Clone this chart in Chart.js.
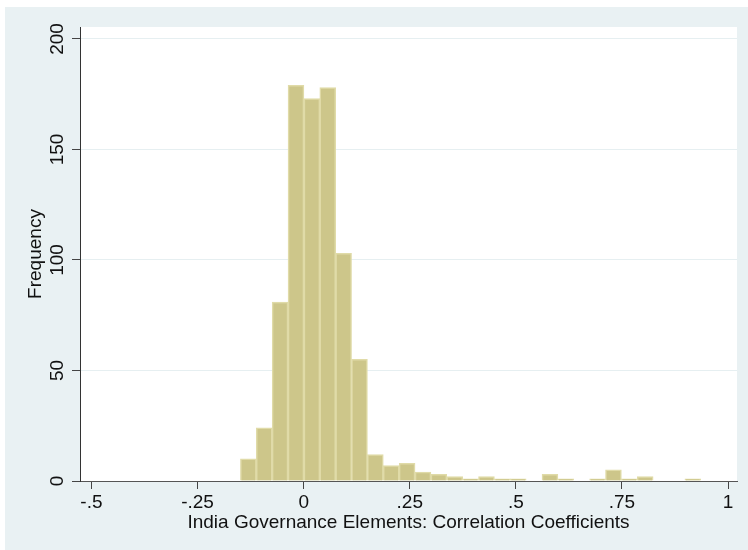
<!DOCTYPE html>
<html>
<head>
<meta charset="utf-8">
<title>India Governance Elements</title>
<script src="https://cdn.jsdelivr.net/npm/chart.js@4.4.1/dist/chart.umd.min.js"></script>
<style>
  html, body { margin: 0; padding: 0; background: #ffffff; }
  canvas { display: block; }
</style>
</head>
<body>
<canvas id="hist" width="748" height="550"></canvas>
<script>
// histogram bins (29 bins)
const binStart = -0.149;
const binWidth = 0.0374;
const frequencies = [10, 24, 81, 179, 173, 178, 103, 55, 12, 7, 8, 4, 3, 2, 1, 2, 1, 1, 0, 3, 1, 0, 1, 5, 1, 2, 0, 0, 1];

const xTicks = [-0.5, -0.25, 0, 0.25, 0.5, 0.75, 1];
const xTickLabels = ['-.5', '-.25', '0', '.25', '.5', '.75', '1'];
const yTicks = [0, 50, 100, 150, 200];
const yTickLabels = ['0', '50', '100', '150', '200'];
const xTitle = 'India Governance Elements: Correlation Coefficients';
const yTitle = 'Frequency';

const fontFamily = '"Liberation Sans", Arial, Helvetica, sans-serif';
const textColor = '#111111';

let binData = frequencies.map((f, i) => ({ x: binStart + binWidth * (i + 0.5), y: f }));

// stata style frame + titles drawn round the chart area
const stataFrame = {
  id: 'stataFrame',
  beforeDraw: (chart) => {
    const {ctx, chartArea} = chart;
    ctx.save();
    ctx.fillStyle = '#ffffff';
    ctx.fillRect(0, 0, chart.width, chart.height);
    ctx.fillStyle = '#e9f1f3';
    ctx.fillRect(5, 7, chart.width - 5, chart.height - 7);
    ctx.fillStyle = '#ffffff';
    ctx.fillRect(chartArea.left, chartArea.top, chartArea.right - chartArea.left, chartArea.bottom - chartArea.top);
    ctx.restore();
  },
  afterDraw: (chart) => {
    const {ctx, chartArea} = chart;
    const yScale = chart.scales.y;
    ctx.save();
    ctx.fillStyle = textColor;
    ctx.font = '19px ' + fontFamily;
    ctx.textAlign = 'center';
    ctx.textBaseline = 'middle';
    // vertical y tick labels
    yTicks.forEach((v, i) => {
      ctx.save();
      ctx.translate(58, yScale.getPixelForValue(v));
      ctx.rotate(-Math.PI / 2);
      ctx.fillText(yTickLabels[i], 0, 0);
      ctx.restore();
    });
    // y title
    ctx.save();
    ctx.translate(36, (chartArea.top + chartArea.bottom) / 2);
    ctx.rotate(-Math.PI / 2);
    ctx.fillText(yTitle, 0, 0);
    ctx.restore();
    // x title
    ctx.textBaseline = 'alphabetic';
    ctx.fillText(xTitle, (chartArea.left + chartArea.right) / 2, 528);
    ctx.restore();
  }
};

new Chart(document.getElementById('hist'), {
  type: 'bar',
  data: {
    datasets: [{
      data: binData,
      backgroundColor: '#cdc68a',
      borderColor: '#e0dba8',
      borderWidth: 1.5,
      borderSkipped: 'start',
      barPercentage: 1,
      categoryPercentage: 1,
    }]
  },
  options: {
    responsive: false,
    animation: false,
    layout: {
      padding: { left: 0, top: 27, right: 11, bottom: 0 }
    },
    plugins: {
      legend: { display: false },
      tooltip: { enabled: false }
    },
    scales: {
      x: {
        type: 'linear',
        min: -0.527,
        max: 1.021,
        offset: false,
        afterBuildTicks: scale => { scale.ticks = xTicks.map(v => ({ value: v })); },
        afterFit: scale => { scale.height = 69; },
        ticks: {
          autoSkip: false,
          maxRotation: 0,
          padding: 2,
          color: textColor,
          font: { family: fontFamily, size: 19 },
          callback: (value, index) => xTickLabels[index]
        },
        grid: {
          offset: false,
          drawOnChartArea: false,
          drawTicks: true,
          tickLength: 8,
          tickColor: '#444444',
          tickWidth: 1
        },
        border: { color: '#555555', width: 1 }
      },
      y: {
        min: 0,
        max: 205.4,
        afterBuildTicks: scale => { scale.ticks = yTicks.map(v => ({ value: v })); },
        afterFit: scale => { scale.width = 80; },
        ticks: { display: false },
        grid: {
          color: '#e6eff1',
          lineWidth: 1,
          drawTicks: true,
          tickLength: 8,
          tickColor: '#444444',
          tickWidth: 1
        },
        border: { color: '#333333', width: 1 }
      }
    }
  },
  plugins: [stataFrame],
});
</script>
</body>
</html>
